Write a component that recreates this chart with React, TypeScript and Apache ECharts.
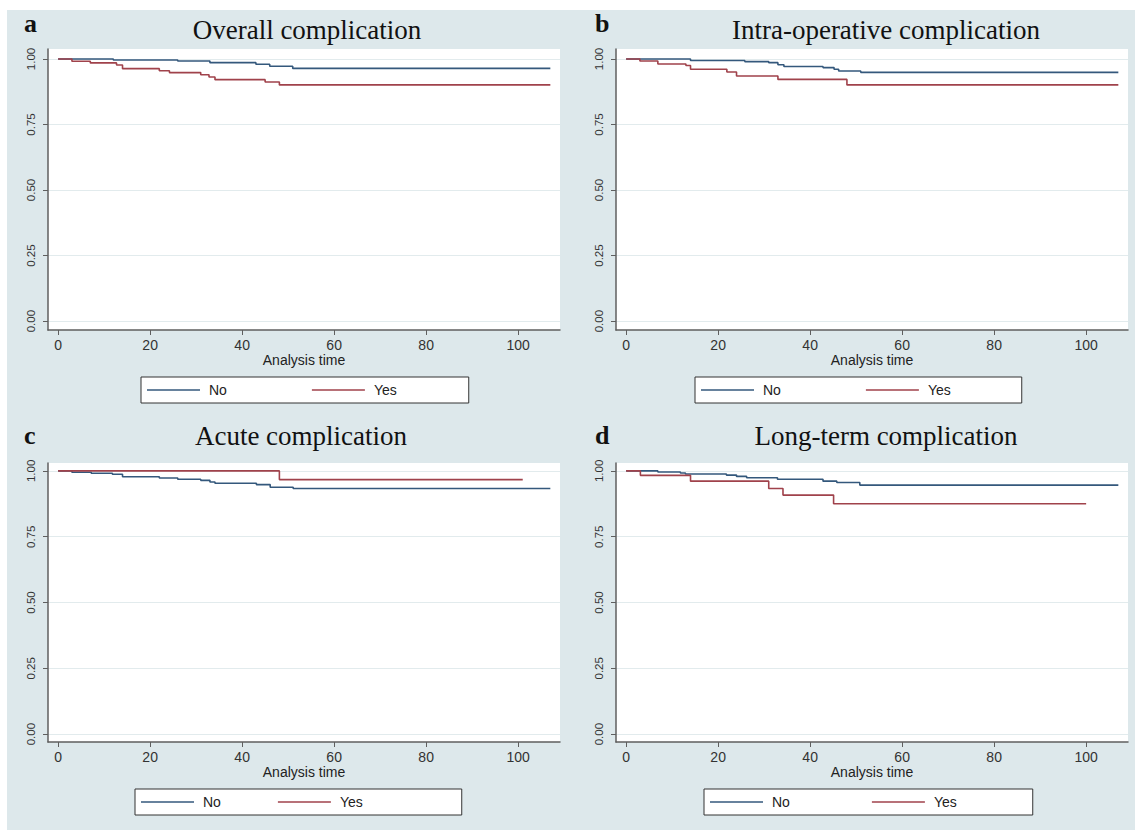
import React, { useEffect, useRef } from "react";
import * as echarts from "echarts";

// ---------- data ----------
const xTicks = [0, 20, 40, 60, 80, 100];
const yTicks = [0, 0.25, 0.5, 0.75, 1];
const groupNames = ["No", "Yes"];
const panelLetters = ["a", "b", "c", "d"];
const panelTitles = [
  "Overall complication",
  "Intra-operative complication",
  "Acute complication",
  "Long-term complication",
];
const xAxisName = "Analysis time";

// Kaplan-Meier steps: [time, survival]
const overallNo = [[0, 1], [12, 0.996], [26, 0.992], [33, 0.986], [43, 0.98], [46, 0.972], [51, 0.964], [107, 0.964]];
const overallYes = [[0, 1], [3, 0.991], [7, 0.985], [12.7, 0.977], [14, 0.963], [22, 0.955], [24.2, 0.948], [31, 0.94], [32.8, 0.931], [34.1, 0.921], [45, 0.912], [48.1, 0.901], [107, 0.901]];
const intraNo = [[0, 1], [14, 0.994], [25.8, 0.99], [31, 0.986], [33, 0.978], [34.3, 0.971], [42.8, 0.967], [45.2, 0.961], [46.2, 0.954], [51, 0.949], [107, 0.949]];
const intraYes = [[0, 1], [3, 0.992], [6.9, 0.981], [13, 0.975], [14, 0.961], [21.9, 0.95], [24, 0.935], [33, 0.922], [48, 0.901], [107, 0.901]];
const acuteNo = [[0, 1], [3, 0.995], [7.2, 0.991], [11.8, 0.987], [14, 0.978], [22, 0.973], [26, 0.968], [31, 0.964], [33, 0.958], [34.1, 0.953], [43.1, 0.948], [46.1, 0.938], [51.1, 0.933], [107, 0.933]];
const acuteYes = [[0, 1], [48.1, 0.967], [101, 0.967]];
const longNo = [[0, 1], [6.9, 0.996], [11.8, 0.992], [12.9, 0.988], [21.8, 0.984], [24, 0.979], [26.2, 0.974], [32.9, 0.968], [42.8, 0.961], [45.8, 0.956], [50.8, 0.946], [107, 0.946]];
const longYes = [[0, 1], [3.1, 0.983], [14, 0.961], [31, 0.933], [34.1, 0.908], [45.1, 0.875], [100, 0.875]];

const panelData = [
  [overallNo, overallYes],
  [intraNo, intraYes],
  [acuteNo, acuteYes],
  [longNo, longYes],
];

// ---------- layout (page coordinates) ----------
const OX = 7;
const OY = 10;
const W = 1128;
const H = 820;

const grids = [
  { left: 48, top: 49, width: 512, height: 281, yMin: -0.034, yMax: 1.038 },
  { left: 616, top: 49, width: 512, height: 281, yMin: -0.034, yMax: 1.038 },
  { left: 48, top: 463, width: 512, height: 279, yMin: -0.03, yMax: 1.03 },
  { left: 616, top: 463, width: 512, height: 279, yMin: -0.03, yMax: 1.03 },
];
const titlePos = [
  { x: 307, top: 16 },
  { x: 886, top: 16 },
  { x: 301, top: 422.5 },
  { x: 886, top: 422.5 },
];
const letterPos = [
  { x: 24, top: 10.5 },
  { x: 595, top: 10.5 },
  { x: 24, top: 422 },
  { x: 595, top: 422 },
];
const legendPos = [
  { left: 141, top: 377, gap: 85, padR: 72 },
  { left: 695, top: 377, gap: 85, padR: 71 },
  { left: 135, top: 789, gap: 57, padR: 99 },
  { left: 704, top: 789, gap: 82, padR: 76 },
];

const colors = ["#34587c", "#a0424b"];
const bg = "#dde8eb";
const gridLineColor = "#e2ebed";
const axisColor = "#5f5f5f";
const sans = "'Liberation Sans', Arial, sans-serif";
const serif = "'Liberation Serif', 'Times New Roman', serif";

export default function App() {
  const ref = useRef<HTMLDivElement>(null);

  useEffect(() => {
    if (!ref.current) return;
    const chart = echarts.init(ref.current, undefined, { renderer: "svg" });

    const option: any = {
      animation: false,
      backgroundColor: bg,
      title: [
        ...panelTitles.map((t, i) => ({
          text: t,
          left: titlePos[i].x - OX,
          top: titlePos[i].top - OY,
          textAlign: "center",
          padding: 0,
          textStyle: { fontFamily: serif, fontSize: 27, fontWeight: "normal", color: "#111" },
        })),
        ...panelLetters.map((t, i) => ({
          text: t,
          left: letterPos[i].x - OX,
          top: letterPos[i].top - OY,
          padding: 0,
          textStyle: { fontFamily: serif, fontSize: 26, fontWeight: "bold", color: "#111" },
        })),
      ],
      legend: legendPos.map((l) => ({
        data: groupNames,
        left: l.left - OX,
        top: l.top - OY,
        orient: "horizontal",
        icon: "rect",
        itemWidth: 53,
        itemHeight: 1.6,
        itemGap: l.gap,
        padding: [6, l.padR, 6, 6],
        backgroundColor: "#fff",
        borderColor: "#333",
        borderWidth: 1,
        borderRadius: 0,
        selectedMode: false,
        textStyle: {
          fontFamily: sans,
          fontSize: 14,
          color: "#222",
          lineHeight: 14,
          padding: [0, 0, 0, 4],
        },
      })),
      grid: grids.map((g) => ({
        left: g.left - OX,
        top: g.top - OY,
        width: g.width,
        height: g.height,
        show: true,
        backgroundColor: "#fff",
        borderWidth: 0,
        containLabel: false,
      })),
      xAxis: grids.map((g, i) => ({
        type: "value",
        gridIndex: i,
        min: -2.2,
        max: 109.1,
        name: xAxisName,
        nameLocation: "middle",
        nameGap: 23,
        nameTextStyle: { fontFamily: sans, fontSize: 14, color: "#222" },
        axisLine: { show: true, onZero: false, lineStyle: { color: axisColor, width: 1.5 } },
        axisTick: { show: true, length: 5, customValues: xTicks, lineStyle: { color: axisColor } },
        axisLabel: {
          customValues: xTicks,
          margin: 8,
          fontFamily: sans,
          fontSize: 14,
          color: "#333",
        },
        splitLine: { show: false },
      })),
      yAxis: grids.map((g, i) => ({
        type: "value",
        gridIndex: i,
        min: g.yMin,
        max: g.yMax,
        axisLine: { show: true, onZero: false, lineStyle: { color: axisColor, width: 1.5 } },
        axisTick: { show: true, length: 5, customValues: yTicks, lineStyle: { color: axisColor } },
        axisLabel: {
          customValues: yTicks,
          rotate: 90,
          margin: 11,
          fontFamily: sans,
          fontSize: 11.5,
          color: "#333",
          formatter: (v: number) => v.toFixed(2),
        },
        splitLine: { show: true, lineStyle: { color: gridLineColor, width: 1 } },
      })),
      series: panelData.flatMap((pair, i) =>
        pair.map((d, k) => ({
          name: groupNames[k],
          type: "line",
          step: "end",
          xAxisIndex: i,
          yAxisIndex: i,
          data: d,
          symbol: "none",
          showSymbol: false,
          color: colors[k],
          itemStyle: { color: colors[k] },
          lineStyle: { color: colors[k], width: 1.6 },
          z: 3,
        }))
      ),
    };

    chart.setOption(option);
    return () => chart.dispose();
  }, []);

  return (
    <div
      ref={ref}
      style={{ position: "absolute", left: OX, top: OY, width: W, height: H }}
    />
  );
}
